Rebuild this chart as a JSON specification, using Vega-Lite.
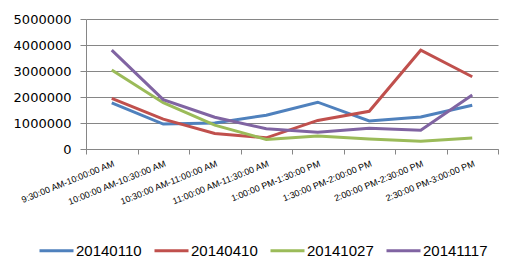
{
  "$schema": "https://vega.github.io/schema/vega-lite/v6.json",
  "width": 412,
  "height": 130,
  "autosize": {"type": "none"},
  "padding": {"left": 86, "top": 19, "right": 21, "bottom": 120},
  "background": "white",
  "config": {
    "view": {"stroke": null},
    "axis": {"labelColor": "black", "domainColor": "#868686", "tickColor": "#868686", "gridColor": "#868686", "title": null}
  },
  "data": {
    "values": [
      {"time": "9:30:00 AM-10:00:00 AM", "series": "20140110", "value": 1770000},
      {"time": "10:00:00 AM-10:30:00 AM", "series": "20140110", "value": 960000},
      {"time": "10:30:00 AM-11:00:00 AM", "series": "20140110", "value": 1000000},
      {"time": "11:00:00 AM-11:30:00 AM", "series": "20140110", "value": 1300000},
      {"time": "1:00:00 PM-1:30:00 PM", "series": "20140110", "value": 1800000},
      {"time": "1:30:00 PM-2:00:00 PM", "series": "20140110", "value": 1080000},
      {"time": "2:00:00 PM-2:30:00 PM", "series": "20140110", "value": 1230000},
      {"time": "2:30:00 PM-3:00:00 PM", "series": "20140110", "value": 1680000},
      {"time": "9:30:00 AM-10:00:00 AM", "series": "20140410", "value": 1950000},
      {"time": "10:00:00 AM-10:30:00 AM", "series": "20140410", "value": 1150000},
      {"time": "10:30:00 AM-11:00:00 AM", "series": "20140410", "value": 600000},
      {"time": "11:00:00 AM-11:30:00 AM", "series": "20140410", "value": 430000},
      {"time": "1:00:00 PM-1:30:00 PM", "series": "20140410", "value": 1100000},
      {"time": "1:30:00 PM-2:00:00 PM", "series": "20140410", "value": 1450000},
      {"time": "2:00:00 PM-2:30:00 PM", "series": "20140410", "value": 3800000},
      {"time": "2:30:00 PM-3:00:00 PM", "series": "20140410", "value": 2780000},
      {"time": "9:30:00 AM-10:00:00 AM", "series": "20141027", "value": 3040000},
      {"time": "10:00:00 AM-10:30:00 AM", "series": "20141027", "value": 1780000},
      {"time": "10:30:00 AM-11:00:00 AM", "series": "20141027", "value": 920000},
      {"time": "11:00:00 AM-11:30:00 AM", "series": "20141027", "value": 370000},
      {"time": "1:00:00 PM-1:30:00 PM", "series": "20141027", "value": 500000},
      {"time": "1:30:00 PM-2:00:00 PM", "series": "20141027", "value": 380000},
      {"time": "2:00:00 PM-2:30:00 PM", "series": "20141027", "value": 300000},
      {"time": "2:30:00 PM-3:00:00 PM", "series": "20141027", "value": 420000},
      {"time": "9:30:00 AM-10:00:00 AM", "series": "20141117", "value": 3800000},
      {"time": "10:00:00 AM-10:30:00 AM", "series": "20141117", "value": 1900000},
      {"time": "10:30:00 AM-11:00:00 AM", "series": "20141117", "value": 1220000},
      {"time": "11:00:00 AM-11:30:00 AM", "series": "20141117", "value": 780000},
      {"time": "1:00:00 PM-1:30:00 PM", "series": "20141117", "value": 640000},
      {"time": "1:30:00 PM-2:00:00 PM", "series": "20141117", "value": 800000},
      {"time": "2:00:00 PM-2:30:00 PM", "series": "20141117", "value": 720000},
      {"time": "2:30:00 PM-3:00:00 PM", "series": "20141117", "value": 2080000}
    ]
  },
  "mark": {"type": "line", "strokeWidth": 3},
  "encoding": {
    "x": {
      "field": "time",
      "type": "nominal",
      "sort": null,
      "bandPosition": 0.5,
      "scale": {"type": "band", "paddingInner": 0, "paddingOuter": 0},
      "axis": {
        "tickBand": "extent",
        "tickSize": 5,
        "labelAngle": -22,
        "labelAlign": "right",
        "labelBaseline": "top",
        "labelPadding": 5,
        "labelFont": "Liberation Sans",
        "labelFontSize": 9,
        "labelOverlap": false,
        "grid": false
      }
    },
    "y": {
      "field": "value",
      "type": "quantitative",
      "scale": {"domain": [0, 5000000], "nice": false},
      "axis": {
        "values": [0, 1000000, 2000000, 3000000, 4000000, 5000000],
        "format": "d",
        "grid": true,
        "tickSize": 6,
        "labelPadding": 9,
        "labelFont": "DejaVu Sans",
        "labelFontSize": 13
      }
    },
    "color": {
      "field": "series",
      "type": "nominal",
      "scale": {"range": ["#4F81BD", "#C0504D", "#9BBB59", "#8064A2"]},
      "legend": {
        "title": null,
        "orient": "none",
        "direction": "horizontal",
        "legendX": -48,
        "legendY": 213,
        "symbolType": "stroke",
        "symbolSize": 1156,
        "symbolStrokeWidth": 3,
        "labelFont": "Liberation Sans",
        "labelFontSize": 15,
        "labelColor": "black",
        "labelOffset": 1,
        "columnPadding": 6,
        "labelLimit": 300
      }
    }
  }
}
